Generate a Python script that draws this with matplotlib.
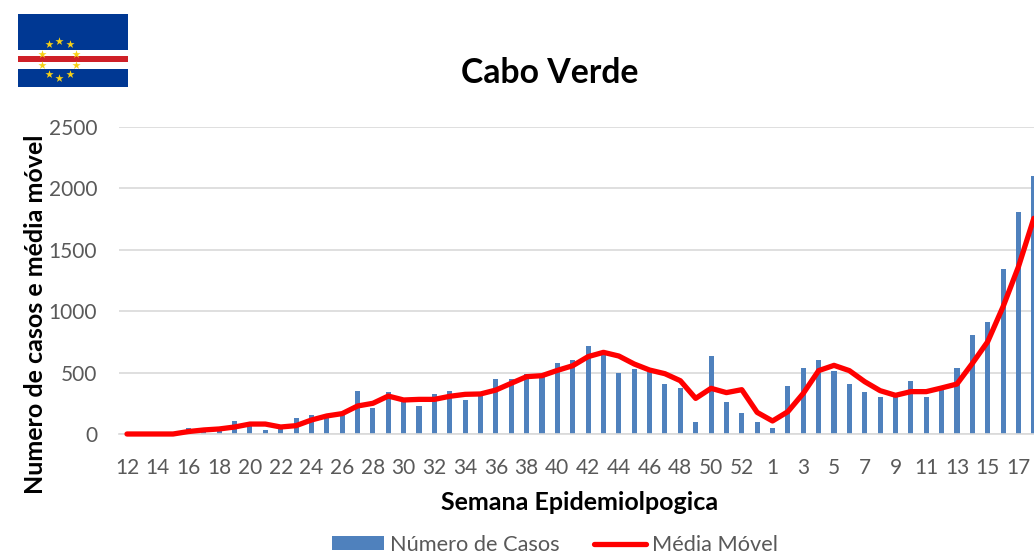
import matplotlib
matplotlib.use('Agg')
import matplotlib.pyplot as plt
import numpy as np

weeks = [str(w) for w in range(12, 54)] + [str(w) for w in range(1, 19)]

casos = [0, 0, 0, 0, 45, 30, 30, 105, 70, 32, 60, 127, 157, 140, 165, 353, 209, 345, 275, 228,
         326, 353, 277, 318, 450, 445, 486, 467, 575, 602, 716, 657, 494, 526, 507, 407, 372, 98,
         635, 260, 168, 95, 46, 393, 537, 602, 516, 407, 339, 299, 300, 429, 301, 358, 537, 803,
         909, 1346, 1808, 2100]

media = [0, 0, 0, 0, 20, 33, 41, 57, 81, 81, 57, 68, 114, 147, 166, 228, 250, 309, 277, 282,
         282, 307, 323, 326, 358, 413, 467, 475, 518, 556, 630, 665, 635, 570, 521, 491, 434, 290,
         372, 337, 361, 176, 106, 182, 331, 516, 559, 516, 426, 353, 315, 345, 345, 375, 407, 575,
         752, 1037, 1362, 1756]

W, H = 1034, 555
plt.rcParams['font.family'] = ['Lato', 'DejaVu Sans']

fig = plt.figure(figsize=(W / 100, H / 100), dpi=100)

# o eixo passa do limite direito da figura, como no original (corte na semana 18)
left, right, top, bottom = 119.3, 1041.5, 127, 434
ax = fig.add_axes([left / W, 1 - bottom / H, (right - left) / W, (bottom - top) / H])

x = np.arange(len(weeks))
barras = ax.bar(x, casos, width=0.33, color='#4f81bd', label='Número de Casos', zorder=2)
linha, = ax.plot(x, media, color='#ff0000', lw=3.8, solid_capstyle='round', clip_on=False,
                 label='Média Móvel', zorder=3)

ax.set_xlim(-0.5, len(weeks) - 0.5)
ax.set_ylim(0, 2500)
ax.set_yticks(range(0, 2501, 500))
ax.set_xticks(x[::2], weeks[::2])
ax.tick_params(length=0, labelsize=15, labelcolor='#595959')
ax.tick_params(axis='x', pad=17.5)
ax.tick_params(axis='y', pad=16)
ax.grid(axis='y', color='#d9d9d9', lw=1.2, zorder=0)
ax.set_axisbelow(True)
for side in ['top', 'right', 'left']:
    ax.spines[side].set_visible(False)
ax.spines['bottom'].set_color('#d9d9d9')
ax.spines['bottom'].set_linewidth(1.2)

fig.text(550 / W, 1 - 73 / H, 'Cabo Verde', fontsize=24.3, fontweight='bold', ha='center', va='center')
fig.text(580 / W, 1 - 503 / H, 'Semana Epidemiolpogica', fontsize=18, fontweight='bold',
         ha='center', va='center')
fig.text(36 / W, 1 - 314 / H, 'Numero de casos e média móvel', fontsize=18, fontweight='bold',
         rotation=90, ha='center', va='center')

fig.legend(handles=[barras, linha], loc='center', bbox_to_anchor=(555 / W, 1 - 545 / H), ncol=2,
           frameon=False, fontsize=15.7, labelcolor='#595959', handlelength=2.4, handleheight=0.6,
           handletextpad=0.27, columnspacing=1.55, borderpad=0)

# bandeira
flag = fig.add_axes([18 / W, 1 - 87 / H, 110 / W, 73 / H])
flag.set_xlim(0, 110)
flag.set_ylim(73, 0)
flag.axis('off')
flag.axhspan(0, 73, color='#003893', lw=0)
flag.axhspan(36, 54.7, color='#ffffff', lw=0)
flag.axhspan(42, 48.3, color='#cf2027', lw=0)
ang = np.deg2rad(np.arange(0, 360, 36))
flag.scatter(41.3 + 18 * np.sin(ang), 45.3 - 18.5 * np.cos(ang), marker='*', s=38, color='#f7d116',
             lw=0, zorder=3)

fig.savefig('out.png', dpi=100)
